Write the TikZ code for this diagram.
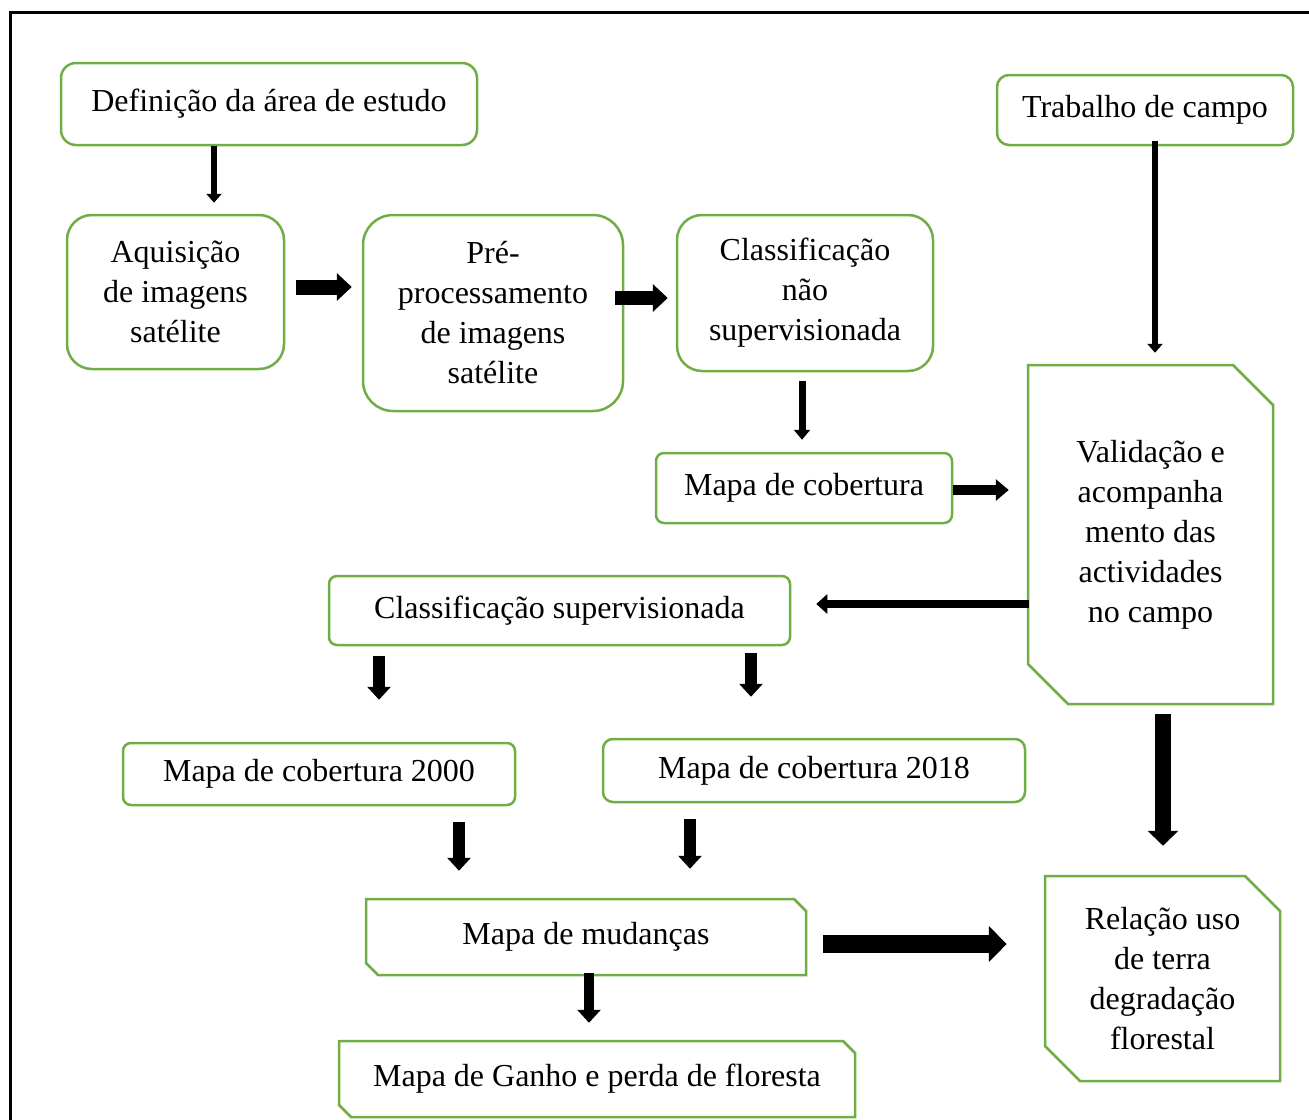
\documentclass[tikz,border=0pt]{standalone}
\usepackage{fontspec}
\setmainfont{Liberation Serif}
\usetikzlibrary{arrows.meta,shapes.misc}

\definecolor{boxgreen}{HTML}{70AD47}

\tikzset{
  stepbox/.style={draw=boxgreen, line width=2.5pt, align=center, inner sep=0pt},
  roundbox/.style={stepbox, rounded corners=#1},
  snipbox/.style={stepbox, chamfered rectangle,
    chamfered rectangle corners={north east,south west},
    chamfered rectangle xsep=#1, chamfered rectangle ysep=#1},
  blk/.style args={#1/#2/#3}{draw=black, line width=#1pt,
    -{Triangle[width=#2pt,length=#3pt]}}
}

\begin{document}
\begin{tikzpicture}[x=1pt,y=-1pt,font=\fontsize{32}{40}\selectfont]
  \useasboundingbox (0,0) rectangle (1309,1119);
  \clip (0,0) rectangle (1309,1119);
  \draw[line width=3pt] (10,12) rectangle (1330,1140); % outer frame

  % boxes
  \node[roundbox=15pt, minimum width=416pt, minimum height=82pt] (def) at (269,104) {Definição da área de estudo};
  \node[roundbox=25pt, minimum width=217pt, minimum height=154pt] (acq) at (175.5,292) {Aquisição\\de imagens\\satélite};
  \node[roundbox=30pt, minimum width=260pt, minimum height=196pt] (pre) at (493,313) {Pré-\\processamento\\de imagens\\satélite};
  \node[roundbox=25pt, minimum width=256pt, minimum height=156pt] (cls) at (805,293) {Classificação\\não\\supervisionada};
  \node[roundbox=8pt, minimum width=296pt, minimum height=70pt] (map) at (804,488) {Mapa de cobertura};
  \node[roundbox=12pt, minimum width=296pt, minimum height=70pt] (campo) at (1145,110) {Trabalho de campo};
  \node[snipbox=20pt, minimum width=245pt, minimum height=339pt] (val) at (1150.5,534.5) {Validação e\\acompanha\\mento das\\actividades\\no campo};
  \node[roundbox=8pt, minimum width=461pt, minimum height=69pt] (sup) at (559.5,610.5) {Classificação supervisionada};
  \node[roundbox=8pt, minimum width=392pt, minimum height=62pt] (m2000) at (319,774) {Mapa de cobertura 2000};
  \node[roundbox=10pt, minimum width=422pt, minimum height=63pt] (m2018) at (814,770.5) {Mapa de cobertura 2018};
  \node[snipbox=6pt, minimum width=440pt, minimum height=76pt] (mud) at (586,937) {Mapa de mudanças};
  \node[snipbox=6pt, minimum width=516pt, minimum height=76pt] (ganho) at (597,1079) {Mapa de Ganho e perda de floresta};
  \node[snipbox=17.5pt, minimum width=235pt, minimum height=205pt] (rel) at (1162.5,978.5) {Relação uso\\de terra\\degradação\\florestal};

  % arrows
  \draw[blk=6/15/9, shorten >=11pt] ([xshift=-55pt]def.south) -- ([xshift=-55pt]def.south |- acq.north);
  \draw[blk=15/27/15, shorten <=11pt, shorten >=10pt] ([yshift=5pt]acq.east) -- ([yshift=5pt]acq.east -| pre.west);
  \draw[blk=14/27/15, shorten <=-9pt, shorten >=8pt] ([yshift=15pt]pre.east) -- ([yshift=15pt]pre.east -| cls.west);
  \draw[blk=7/16/10, shorten <=9pt, shorten >=12pt] ([xshift=-3pt]cls.south) -- ([xshift=-3pt]cls.south |- map.north);
  \draw[blk=6/15/9, shorten <=-5pt, shorten >=11pt] ([xshift=10pt]campo.south) -- ([xshift=10pt]campo.south |- val.north);
  \draw[blk=10/21/13, shorten >=18pt] ([yshift=-2pt]map.east) -- ([yshift=-2pt]map.east -| val.west);
  \draw[blk=8/19/11, shorten <=-2pt, shorten >=25pt] ([yshift=-69.5pt]val.west) -- ([yshift=-69.5pt]val.west -| sup.east);
  \draw[blk=12/23/13, shorten <=10pt, shorten >=42pt] ([xshift=-180.5pt]sup.south) -- ([xshift=-180.5pt]sup.south |- m2000.north);
  \draw[blk=12/23/13, shorten <=7pt, shorten >=41pt] ([xshift=191.5pt]sup.south) -- ([xshift=191.5pt]sup.south |- m2018.north);
  \draw[blk=12/23/13, shorten <=16pt, shorten >=27pt] ([xshift=140pt]m2000.south) -- ([xshift=140pt]m2000.south |- mud.north);
  \draw[blk=12/23/13, shorten <=16pt, shorten >=29pt] ([xshift=-124pt]m2018.south) -- ([xshift=-124pt]m2018.south |- mud.north);
  \draw[blk=10/23/13, shorten <=-3pt, shorten >=17pt] ([xshift=3pt]mud.south) -- ([xshift=3pt]mud.south |- ganho.north);
  \draw[blk=18/35/18, shorten <=16pt, shorten >=37pt] ([yshift=-7pt]mud.east) -- ([yshift=-7pt]mud.east -| rel.west);
  \draw[blk=16/30/15, shorten <=9pt, shorten >=29pt] ([xshift=12.5pt]val.south) -- ([xshift=12.5pt]val.south |- rel.north);
\end{tikzpicture}
\end{document}
